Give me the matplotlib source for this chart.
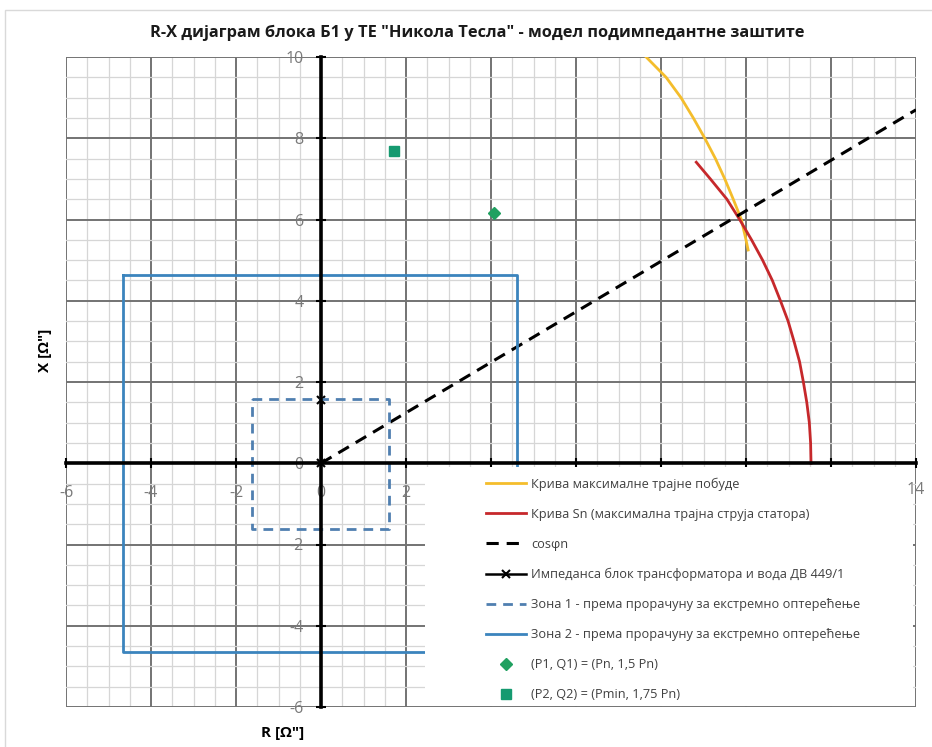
import matplotlib
matplotlib.use('Agg')
import matplotlib.pyplot as plt
from matplotlib.patches import Rectangle
from matplotlib.ticker import MultipleLocator

plt.rcParams['font.family'] = ['Open Sans', 'DejaVu Sans']

# --- data (R, X in ohm) ---
yellow_r = [7.65, 8.12, 8.47, 8.76, 9.03, 9.28, 9.50, 9.70, 9.89, 10.00, 10.05]
yellow_x = [10.0, 9.5, 9.0, 8.5, 8.0, 7.5, 7.0, 6.5, 6.0, 5.5, 5.25]

red_r = [8.83, 9.16, 9.55, 9.85, 10.13, 10.39, 10.62, 10.81, 10.99, 11.13,
         11.26, 11.35, 11.43, 11.49, 11.52, 11.53]
red_x = [7.41, 7.0, 6.5, 6.0, 5.5, 5.0, 4.5, 4.0, 3.5, 3.0,
         2.5, 2.0, 1.5, 1.0, 0.5, 0.0]

cos_r = [0, 14]
cos_x = [0, 8.7]

imp_r = [0, 0]
imp_x = [0, 1.55]

zone1_r = [-1.62, 1.6, 1.6, -1.62, -1.62]
zone1_x = [1.58, 1.58, -1.62, -1.62, 1.58]

zone2_r = [-4.65, 4.6, 4.6, -4.65, -4.65]
zone2_x = [4.63, 4.63, -4.65, -4.65, 4.63]

p1_r, p1_x = [4.07], [6.16]
p2_r, p2_x = [1.72], [7.68]

x_ticks = [-6, -4, -2, 0, 2, 4, 6, 8, 10, 12, 14]
# labels 4..12 sit behind the legend in the reference, 14 is drawn on top
x_tick_labels = ['-6', '-4', '-2', '0', '2', '', '', '', '', '', '']
x_last_label = '14'
y_ticks = [-6, -4, -2, 0, 2, 4, 6, 8, 10]
y_tick_labels = ['-6', '-4', '-2', '0', '2', '4', '6', '8', '10']

labels = ['Крива максималне трајне побуде',
          'Крива Sn (максимална трајна струја статора)',
          'cosφn',
          'Импеданса блок трансформатора и вода ДВ 449/1',
          'Зона 1 - према прорачуну за екстремно оптерећење',
          'Зона 2 - према прорачуну за екстремно оптерећење',
          '(P1, Q1) = (Pn, 1,5 Pn)',
          '(P2, Q2) = (Pmin, 1,75 Pn)']

title = 'R-X дијаграм блока Б1 у ТЕ "Никола Тесла" - модел подимпедантне заштите'

W, H = 932, 747
fig = plt.figure(figsize=(W / 100, H / 100), dpi=100)
fig.patches.append(Rectangle((5 / W, -0.01), 1.0, 1 - 10 / H + 0.01, transform=fig.transFigure,
                             fill=False, edgecolor='#d9d9d9', lw=1))
ax = fig.add_axes([66 / W, 40 / H, 850 / W, 650 / H])
ax.set_xlim(-6, 14)
ax.set_ylim(-6, 10)

ax.set_xticks(x_ticks)
ax.set_xticklabels(x_tick_labels)
ax.set_yticks(y_ticks)
ax.set_yticklabels(y_tick_labels)
ax.xaxis.set_minor_locator(MultipleLocator(0.5))
ax.yaxis.set_minor_locator(MultipleLocator(0.5))
ax.set_axisbelow(True)
ax.grid(which='minor', color='#d6d6d6', lw=0.9)
ax.grid(which='major', color='#737373', lw=1.4)
ax.tick_params(which='minor', length=0)
ax.tick_params(which='major', direction='inout', length=7, width=1.5, color='black',
               labelcolor='#7a7a7a', labelsize=11.5)
ax.tick_params(axis='x', pad=12)
ax.tick_params(axis='y', pad=9)

for s in ['top', 'right']:
    ax.spines[s].set_visible(False)
for s in ['left', 'bottom']:
    ax.spines[s].set_position(('data', 0))
    ax.spines[s].set_linewidth(2.6)
    ax.spines[s].set_color('black')
    ax.spines[s].set_zorder(3)

l1, = ax.plot(yellow_r, yellow_x, color='#f4bd2c', lw=2)
l2, = ax.plot(red_r, red_x, color='#c6282b', lw=2)
l3, = ax.plot(cos_r, cos_x, color='black', lw=2.2, ls=(0, (4, 2.6)))
l4, = ax.plot(imp_r, imp_x, color='black', lw=1.8, marker='x', ms=6, mew=1.5)
l5, = ax.plot(zone1_r, zone1_x, color='#4f7fb0', lw=2, ls=(0, (3.5, 2.5)))
l6, = ax.plot(zone2_r, zone2_x, color='#3b84bd', lw=2)
l7, = ax.plot(p1_r, p1_x, ls='none', marker='D', ms=6, color='#20a060')
l8, = ax.plot(p2_r, p2_x, ls='none', marker='s', ms=7, color='#159a70')

# white legend area covering the lower right grid
ax.add_patch(Rectangle((0.422, 0.002), 0.574, 0.368, transform=ax.transAxes,
                       facecolor='white', edgecolor='none', zorder=4))
leg = ax.legend([l1, l2, l3, l4, l5, l6, l7, l8], labels, loc='upper left',
                bbox_to_anchor=(0.487, 0.363), frameon=False, borderpad=0,
                fontsize=9.2, handlelength=3.1, handletextpad=0.4, labelspacing=1.33,
                labelcolor='#404040')
leg.set_zorder(5)
ax.text(x_ticks[-1], -0.45, x_last_label, ha='center', va='top',
        color='#7a7a7a', fontsize=11.5, zorder=6)

fig.text(477 / W, 1 - 33 / H, title, ha='center', va='center', fontsize=11.8,
         fontweight='bold', color='#1a1a1a')
fig.text(45 / W, 1 - 350 / H, 'X [Ω"]', rotation=90, ha='center', va='center',
         fontsize=11, fontweight='bold')
fig.text(283 / W, 1 - 733 / H, 'R [Ω"]', ha='center', va='center',
         fontsize=11, fontweight='bold')

fig.savefig('out.png', dpi=100)
